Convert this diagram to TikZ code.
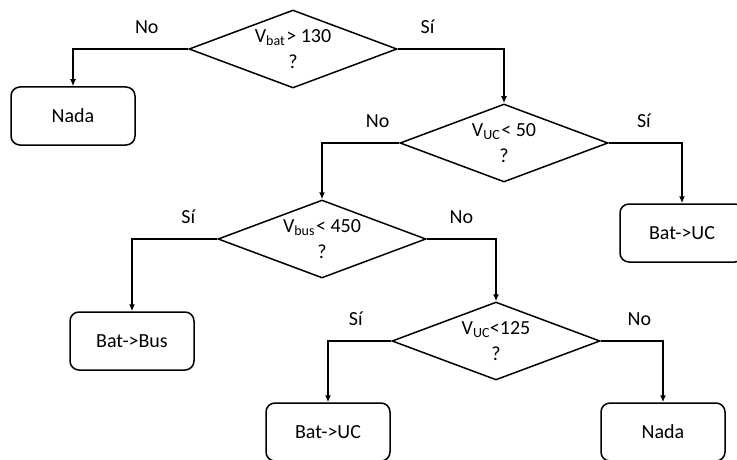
\documentclass[tikz,border=0pt]{standalone}
\usepackage{fontspec}
\setmainfont{Carlito}
\usepackage{tikz}
\usetikzlibrary{arrows.meta,positioning,shapes.geometric}

\begin{document}
\begin{tikzpicture}[x=1pt, y=-1pt, >={Latex[length=7pt,width=6pt]}, line width=1.5pt]
        \tikzset{decision/.style={diamond, draw, align=center, inner sep=0pt, aspect=2.67, minimum width=208pt, minimum height=78pt, font=\fontsize{20}{26}\selectfont},
                 action/.style={rectangle, draw, rounded corners=9pt, align=center, minimum width=124pt, minimum height=58pt, font=\fontsize{20}{24}\selectfont},
                 lbl/.style={inner sep=0pt, above=15pt, font=\fontsize{20}{24}\selectfont}}
        \useasboundingbox (0,0) rectangle (737,460);
        \clip (0,0) rectangle (737,460);
        % decisions
        \node[decision] (vbat) at (293,49) {V\textsubscript{bat}\kern1pt> 130\\?};
        \node[decision] (vuca) at (504,143) {V\textsubscript{UC}\kern1pt< 50\\?};
        \node[decision] (vbus) at (322,239) {V\textsubscript{bus}\kern1pt< 450\\?};
        \node[decision] (vucb) at (496,341) {V\textsubscript{UC}<125\\?};
        % actions
        \node[action] (nadaa) at (73,116) {Nada};
        \node[action] (batuca) at (682,233) {Bat->UC};
        \node[action] (batbus) at (132,341) {Bat->Bus};
        \node[action] (batucb) at (328,432) {Bat->UC};
        \node[action] (nadab) at (663,432) {Nada};
        % branches
        \draw[->] (vbat.west) -| node[lbl, pos=.18] (nvbat) {No} (nadaa.north);
        \draw[->] (vbat.east) -| node[lbl, pos=.14] (svbat) {Sí} (vuca.north);
        \draw[->] (vuca.west) -| node[lbl, pos=.14] (nvuca) {No} (vbus.north);
        \draw[->] (vuca.east) -| node[lbl, pos=.24] (svuca) {Sí} (batuca.north);
        \draw[->] (vbus.west) -| node[lbl, pos=.17] (svbus) {Sí} (batbus.north);
        \draw[->] (vbus.east) -| node[lbl, pos=.25] (nvbus) {No} (vucb.north);
        \draw[->] (vucb.west) -| node[lbl, pos=.28] (svucb) {Sí} (batucb.north);
        \draw[->] (vucb.east) -| node[lbl, pos=.31] (nvucb) {No} (nadab.north);
    \end{tikzpicture}
\end{document}
